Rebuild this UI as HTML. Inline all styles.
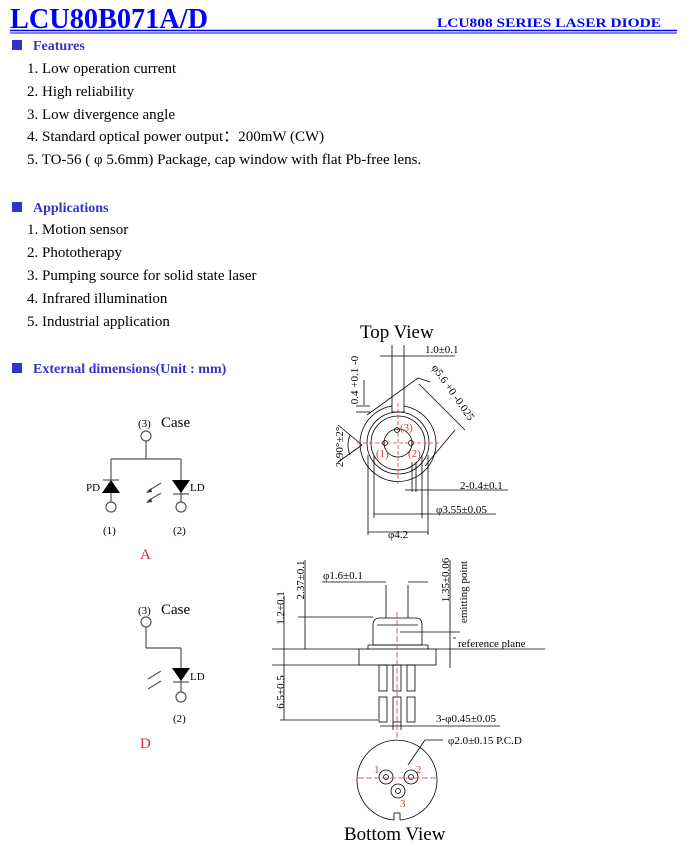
<!DOCTYPE html>
<html><head><meta charset="utf-8"><style>
html,body{margin:0;padding:0;background:#fff;}
svg{display:block;}
.t{font-family:"Liberation Serif",serif;font-size:15px;fill:#000;}
.h{font-family:"Liberation Serif",serif;font-size:14px;font-weight:bold;fill:#3333cc;}
.d{font-family:"Liberation Serif",serif;font-size:11px;fill:#000;}
.r{fill:#d04040;}
</style></head><body>
<svg width="690" height="846" viewBox="0 0 690 846" xmlns="http://www.w3.org/2000/svg">
<text x="10" y="28" font-family="Liberation Serif" font-size="29" font-weight="bold" fill="#0000ff" textLength="198" lengthAdjust="spacingAndGlyphs">LCU80B071A/D</text>
<text x="437" y="27" font-family="Liberation Serif" font-size="13" font-weight="bold" fill="#0000ff" textLength="224" lengthAdjust="spacingAndGlyphs">LCU808 SERIES LASER DIODE</text>
<line x1="10" y1="30.5" x2="677" y2="30.5" stroke="#0000ff" stroke-width="1.5"/>
<line x1="10" y1="33" x2="677" y2="33" stroke="#0000ff" stroke-width="1"/>

<rect x="12" y="40" width="10" height="10" fill="#3333cc"/>
<text class="h" x="33" y="50">Features</text>
<text class="t" x="27" y="73">1. Low operation current</text>
<text class="t" x="27" y="96">2. High reliability</text>
<text class="t" x="27" y="119">3. Low divergence angle</text>
<text class="t" x="27" y="141">4. Standard optical power output：200mW (CW)</text>
<text class="t" x="27" y="164">5. TO-56 ( φ 5.6mm) Package, cap window with flat Pb-free lens.</text>

<rect x="12" y="202" width="10" height="10" fill="#3333cc"/>
<text class="h" x="33" y="212">Applications</text>
<text class="t" x="27" y="234">1. Motion sensor</text>
<text class="t" x="27" y="257">2. Phototherapy</text>
<text class="t" x="27" y="280">3. Pumping source for solid state laser</text>
<text class="t" x="27" y="303">4. Infrared illumination</text>
<text class="t" x="27" y="326">5. Industrial application</text>

<rect x="12" y="363" width="10" height="10" fill="#3333cc"/>
<text class="h" x="33" y="373">External dimensions(Unit : mm)</text>

<!-- Schematic A -->
<g stroke="#555" stroke-width="1.2" fill="none">
<circle cx="146" cy="436" r="5" fill="#fff"/>
<line x1="146" y1="441" x2="146" y2="459"/>
<line x1="111" y1="459" x2="181" y2="459"/>
<line x1="111" y1="459" x2="111" y2="502"/>
<line x1="181" y1="459" x2="181" y2="502"/>
<circle cx="111" cy="507" r="5" fill="#fff"/>
<circle cx="181" cy="507" r="5" fill="#fff"/>
<line x1="103" y1="480" x2="119" y2="480"/>
<line x1="173" y1="494" x2="189" y2="494"/>
<line x1="148" y1="491" x2="161" y2="483"/>
<line x1="148" y1="501" x2="161" y2="493"/>
</g>
<polygon points="111,480 102,493 120,493" fill="#000"/>
<polygon points="172,480 190,480 181,493" fill="#000"/>
<polygon points="146,493 151,488 152,492" fill="#333"/>
<polygon points="146,503 151,498 152,502" fill="#333"/>
<text class="d" x="138" y="427" font-size="12">(3)</text>
<text class="t" x="161" y="427" font-size="14">Case</text>
<text class="d" x="86" y="491" font-size="12">PD</text>
<text class="d" x="190" y="491" font-size="12">LD</text>
<text class="d" x="103" y="534" font-size="12">(1)</text>
<text class="d" x="173" y="534" font-size="12">(2)</text>
<text x="140" y="559" font-family="Liberation Serif" font-size="15" fill="#d03030">A</text>

<!-- Schematic D -->
<g stroke="#555" stroke-width="1.2" fill="none">
<circle cx="146" cy="622" r="5" fill="#fff"/>
<line x1="146" y1="627" x2="146" y2="648"/>
<line x1="146" y1="648" x2="181" y2="648"/>
<line x1="181" y1="648" x2="181" y2="692"/>
<circle cx="181" cy="697" r="5" fill="#fff"/>
<line x1="173" y1="682" x2="189" y2="682"/>
<line x1="148" y1="679" x2="161" y2="671"/>
<line x1="148" y1="689" x2="161" y2="681"/>
</g>
<polygon points="172,668 190,668 181,681" fill="#000"/>
<text class="d" x="138" y="614" font-size="12">(3)</text>
<text class="t" x="161" y="614" font-size="14">Case</text>
<text class="d" x="190" y="680" font-size="12">LD</text>
<text class="d" x="173" y="722" font-size="12">(2)</text>
<text x="140" y="748" font-family="Liberation Serif" font-size="15" fill="#d03030">D</text>

<!-- Top view -->
<text x="360" y="338" font-family="Liberation Serif" font-size="19">Top View</text>
<g stroke="#000" stroke-width="0.8" fill="none">
<path d="M392,406 A38,38 0 1 0 404,406"/>
<line x1="392" y1="406" x2="392" y2="412"/><line x1="404" y1="406" x2="404" y2="412"/>
<line x1="392" y1="412" x2="404" y2="412"/>
<circle cx="398" cy="443" r="31"/>
<circle cx="398" cy="443" r="27"/>
<circle cx="398" cy="443" r="14"/>
<circle cx="385" cy="443" r="2.5"/><circle cx="411" cy="443" r="2.5"/><circle cx="397" cy="430" r="2.5"/>
<line x1="392" y1="345" x2="392" y2="406"/><line x1="404" y1="345" x2="404" y2="406"/>
<line x1="380" y1="356" x2="455" y2="356"/>
<line x1="370" y1="406" x2="356" y2="406"/><line x1="370" y1="412" x2="356" y2="412"/>
<line x1="364" y1="380" x2="364" y2="405"/>
<line x1="367" y1="415" x2="418" y2="378"/>
<line x1="418" y1="378" x2="430" y2="382"/>
<line x1="455" y1="430" x2="425" y2="466"/>
<line x1="419" y1="384" x2="465" y2="430"/>
<line x1="338" y1="425" x2="362" y2="445"/>
<line x1="338" y1="462" x2="362" y2="445"/>
<path d="M350,435 Q346,445 350,455"/>
<line x1="368" y1="455" x2="368" y2="535"/><line x1="428" y1="455" x2="428" y2="535"/>
<line x1="374" y1="455" x2="374" y2="518"/><line x1="422" y1="455" x2="422" y2="518"/>
<line x1="412" y1="462" x2="412" y2="492"/><line x1="416" y1="462" x2="416" y2="492"/>
<line x1="405" y1="490" x2="508" y2="490"/>
<line x1="374" y1="514" x2="422" y2="514"/>
<line x1="422" y1="514" x2="496" y2="514"/>
<line x1="368" y1="532" x2="428" y2="532"/>
</g>
<g stroke="#d04040" stroke-width="0.8" stroke-dasharray="4,2" fill="none">
<line x1="398" y1="403" x2="398" y2="484"/>
<line x1="357" y1="443" x2="440" y2="443"/>
</g>
<text class="d" x="425" y="353">1.0±0.1</text>
<text class="d" text-anchor="middle" transform="translate(358,380) rotate(-90)">0.4 +0.1 -0</text>
<text class="d" x="428" y="370" transform="rotate(55 432 372)">φ5.6 +0 -0.025</text>
<text class="d" text-anchor="middle" transform="translate(343,447) rotate(-90)">2-90°±2°</text>
<text class="d r" x="376" y="457" font-size="10">(1)</text>
<text class="d r" x="408" y="457" font-size="10">(2)</text>
<text class="d r" x="400" y="431" font-size="10">(3)</text>
<text class="d" x="460" y="489">2-0.4±0.1</text>
<text class="d" x="436" y="513">φ3.55±0.05</text>
<text class="d" x="388" y="538">φ4.2</text>

<!-- Side view -->
<g stroke="#000" stroke-width="0.8" fill="none">
<rect x="359" y="649" width="77" height="16"/>
<path d="M373,645 L373,625 Q373,618 380,618 L416,618 Q422,618 422,625 L422,645 Z"/>
<line x1="368" y1="645" x2="428" y2="645"/><line x1="368" y1="645" x2="368" y2="649"/><line x1="428" y1="645" x2="428" y2="649"/>
<line x1="377" y1="625" x2="418" y2="625"/>
<line x1="386" y1="585" x2="386" y2="618"/><line x1="408" y1="585" x2="408" y2="618"/>
<line x1="322" y1="582" x2="386" y2="582"/><line x1="408" y1="582" x2="428" y2="582"/>
<rect x="379" y="665" width="8" height="26"/><rect x="379" y="697" width="8" height="25"/>
<rect x="393" y="665" width="8" height="26"/><rect x="393" y="697" width="8" height="25"/>
<rect x="407" y="665" width="8" height="26"/><rect x="407" y="697" width="8" height="25"/>
<line x1="272" y1="649" x2="359" y2="649"/><line x1="436" y1="649" x2="545" y2="649"/>
<line x1="272" y1="665" x2="359" y2="665"/>
<line x1="298" y1="617" x2="373" y2="617"/>
<line x1="284" y1="596" x2="284" y2="720"/>
<line x1="305" y1="560" x2="305" y2="649"/>
<line x1="280" y1="720" x2="378" y2="720"/>
<line x1="450" y1="560" x2="450" y2="668"/>
<line x1="400" y1="632" x2="460" y2="632"/>
<line x1="453" y1="638" x2="456" y2="638"/>
<line x1="393" y1="722" x2="393" y2="730"/><line x1="401" y1="722" x2="401" y2="730"/>
<line x1="380" y1="726" x2="500" y2="726"/>
</g>
<line x1="397" y1="612" x2="397" y2="740" stroke="#d04040" stroke-width="0.8" stroke-dasharray="6,2"/>
<text class="d" x="323" y="579">φ1.6±0.1</text>
<text class="d" text-anchor="middle" transform="translate(284,608) rotate(-90)">1.2±0.1</text>
<text class="d" text-anchor="middle" transform="translate(304,580) rotate(-90)">2.37±0.1</text>
<text class="d" text-anchor="middle" transform="translate(284,692) rotate(-90)">6.5±0.5</text>
<text class="d" text-anchor="middle" transform="translate(449,580) rotate(-90)">1.35±0.06</text>
<text class="d" text-anchor="middle" transform="translate(467,592) rotate(-90)">emitting point</text>
<text class="d" x="458" y="647">reference plane</text>
<text class="d" x="436" y="722">3-φ0.45±0.05</text>

<!-- Bottom view -->
<g stroke="#000" stroke-width="0.8" fill="none">
<path d="M394,820 A40,40 0 1 1 400,820"/>
<line x1="394" y1="820" x2="394" y2="813"/><line x1="400" y1="820" x2="400" y2="813"/>
<line x1="394" y1="813" x2="400" y2="813"/>
<circle cx="386" cy="777" r="7"/><circle cx="386" cy="777" r="2.5"/>
<circle cx="411" cy="777" r="7"/><circle cx="411" cy="777" r="2.5"/>
<circle cx="398" cy="791" r="7"/><circle cx="398" cy="791" r="2.5"/>
<line x1="425" y1="740" x2="443" y2="740"/><line x1="425" y1="740" x2="408" y2="765"/>
</g>
<g stroke="#d04040" stroke-width="0.8" stroke-dasharray="6,2" fill="none">
<line x1="358" y1="778" x2="438" y2="778"/>
</g>
<text class="d" x="448" y="744">φ2.0±0.15 P.C.D</text>
<text class="d r" x="374" y="773">1</text>
<text class="d r" x="416" y="773">2</text>
<text class="d r" x="400" y="807">3</text>
<text x="344" y="840" font-family="Liberation Serif" font-size="19">Bottom View</text>
</svg>
</body></html>
